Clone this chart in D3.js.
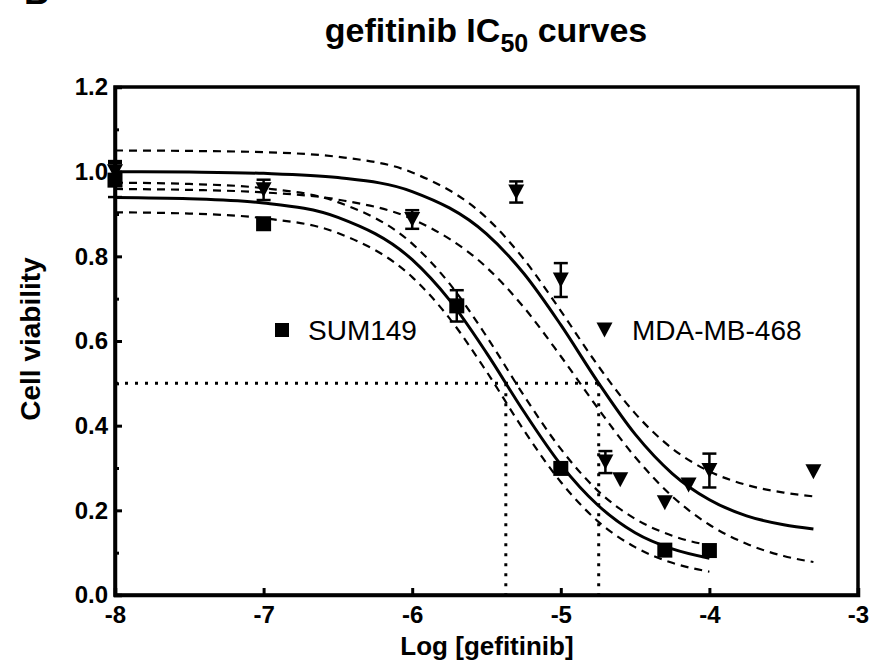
<!DOCTYPE html>
<html>
<head>
<meta charset="utf-8">
<script src="https://cdn.jsdelivr.net/npm/d3@7/dist/d3.min.js"></script>
<style>
  html, body { margin: 0; padding: 0; background: #fff; }
  svg { display: block; font-family: Arial, "Liberation Sans", sans-serif; }
</style>
</head>
<body>
<svg id="chart" width="870" height="669"></svg>
<script>
// ---- measured responses (log molar concentration vs. fraction viable) ----
const sumLogConc  = [-8, -7, -5.7, -5, -4.3, -4];
const sumViab     = [0.98, 0.877, 0.683, 0.299, 0.106, 0.105];
const sumSem      = [0.04, 0, 0.037, 0, 0, 0];

const mdaLogConc  = [-8, -7, -6, -5.3, -5, -4.7, -4.6, -4.3, -4.14, -4, -3.3];
const mdaViab     = [1.0, 0.957, 0.887, 0.952, 0.744, 0.314, 0.272, 0.218, 0.26, 0.294, 0.291];
const mdaSem      = [0.025, 0.024, 0.022, 0.025, 0.04, 0.026, 0, 0, 0, 0.04, 0];

// ---- fitted dose-response curves with 95% confidence bands ----
const sumCurveX   = [-8, -7.5, -7, -6.5, -6, -5.75, -5.5, -5.25, -5, -4.75, -4.5, -4.25, -4];
const sumFit      = [0.939, 0.936, 0.926, 0.892, 0.792, 0.697, 0.572, 0.434, 0.308, 0.212, 0.147, 0.109, 0.087];
const sumUpper    = [0.974, 0.971, 0.961, 0.928, 0.830, 0.736, 0.611, 0.472, 0.345, 0.246, 0.180, 0.140, 0.117];
const sumLower    = [0.904, 0.901, 0.890, 0.855, 0.751, 0.654, 0.528, 0.390, 0.267, 0.174, 0.113, 0.076, 0.055];

const mdaCurveX   = [-8, -7.5, -7, -6.5, -6, -5.5, -5.25, -5, -4.75, -4.5, -4.25, -4, -3.75, -3.5, -3.3];
const mdaFit      = [1.000, 0.999, 0.996, 0.986, 0.953, 0.853, 0.760, 0.638, 0.503, 0.380, 0.287, 0.225, 0.187, 0.166, 0.156];
const mdaUpper    = [1.050, 1.049, 1.046, 1.035, 0.998, 0.891, 0.794, 0.671, 0.542, 0.429, 0.346, 0.292, 0.260, 0.242, 0.233];
const mdaLower    = [0.959, 0.957, 0.951, 0.934, 0.888, 0.774, 0.680, 0.564, 0.441, 0.326, 0.233, 0.166, 0.121, 0.092, 0.078];

// ---- IC50 (log M) at 50% viability ----
const ic50Names   = ["SUM149", "MDA-MB-468"];
const ic50Log     = [-5.37, -4.745];
const halfViab    = 0.5;

// ---- axis ticks ----
const xTicks      = [-8, -7, -6, -5, -4, -3];
const yTicks      = [0.0, 0.2, 0.4, 0.6, 0.8, 1.0, 1.2];
const yMinorTicks = [0.1, 0.3, 0.5, 0.7, 0.9, 1.1];

const svg = d3.select("#chart");

const plot = { left: 115, right: 858, top: 87, bottom: 595 };
const x = d3.scaleLinear().domain([-8, -3]).range([plot.left, plot.right]);
const y = d3.scaleLinear().domain([0, 1.2]).range([plot.bottom, plot.top]);

// panel letter
svg.append("text")
  .attr("x", 24).attr("y", 4)
  .attr("font-size", 35).attr("font-weight", "bold")
  .text("B");

// title with subscript
const title = svg.append("text")
  .attr("x", 486).attr("y", 42)
  .attr("text-anchor", "middle")
  .attr("font-size", 34).attr("font-weight", "bold");
title.append("tspan").text("gefitinib IC");
title.append("tspan").attr("font-size", 25).attr("dy", 10).text("50");
title.append("tspan").attr("dy", -10).text(" curves");

// frame
svg.append("rect")
  .attr("x", plot.left).attr("y", plot.top)
  .attr("width", plot.right - plot.left).attr("height", plot.bottom - plot.top)
  .attr("fill", "none").attr("stroke", "#000").attr("stroke-width", 3.5);

// axes (ticks point into the plot); labels use a plain hyphen for negatives
const xAxis = svg.append("g")
  .attr("transform", `translate(0,${plot.bottom})`)
  .call(d3.axisBottom(x).tickValues(xTicks).tickSize(-7).tickPadding(11)
        .tickFormat(d => String(d)));
const yAxis = svg.append("g")
  .attr("transform", `translate(${plot.left},0)`)
  .call(d3.axisLeft(y).tickValues(yTicks).tickSize(-7).tickPadding(7)
        .tickFormat(d => d.toFixed(1)));
svg.append("g")
  .attr("transform", `translate(${plot.left},0)`)
  .call(d3.axisLeft(y).tickValues(yMinorTicks).tickSize(-4).tickFormat(""))
  .call(g => g.select(".domain").remove());

[xAxis, yAxis].forEach(g => {
  g.select(".domain").attr("stroke-width", 3.5);
  g.selectAll(".tick text")
    .attr("font-size", 24).attr("font-weight", "bold")
    .attr("font-family", "Arial, 'Liberation Sans', sans-serif")
    .attr("fill", "#000");
});
svg.selectAll(".tick line").attr("stroke", "#000").attr("stroke-width", 3);
xAxis.selectAll(".tick text").attr("dy", "0.71em");

// axis titles
svg.append("text")
  .attr("x", 487).attr("y", 655)
  .attr("text-anchor", "middle")
  .attr("font-size", 26).attr("font-weight", "bold")
  .text("Log [gefitinib]");
svg.append("text")
  .attr("transform", "translate(40,339) rotate(-90)")
  .attr("text-anchor", "middle")
  .attr("font-size", 28).attr("font-weight", "bold")
  .text("Cell viability");

// IC50 guide lines
const dotted = { stroke: "#000", "stroke-width": 3, "stroke-dasharray": "3,7", fill: "none" };
const guides = svg.append("g");
const hLine = guides.append("line")
  .attr("x1", x(-8)).attr("x2", x(d3.max(ic50Log)))
  .attr("y1", y(halfViab)).attr("y2", y(halfViab));
Object.entries(dotted).forEach(([k, v]) => hLine.attr(k, v));
ic50Log.forEach(v => {
  const l = guides.append("line")
    .attr("x1", x(v)).attr("x2", x(v))
    .attr("y1", y(halfViab)).attr("y2", y(0));
  Object.entries(dotted).forEach(([k, val]) => l.attr(k, val));
});

// curves
const line = d3.line()
  .x(d => x(d[0])).y(d => y(d[1]))
  .curve(d3.curveMonotoneX);
function drawCurve(xs, ys, dashed) {
  svg.append("path")
    .datum(xs.map((v, i) => [v, ys[i]]))
    .attr("d", line)
    .attr("fill", "none")
    .attr("stroke", "#000")
    .attr("stroke-width", dashed ? 2.2 : 3)
    .attr("stroke-dasharray", dashed ? "8,6" : null);
}
drawCurve(sumCurveX, sumUpper, true);
drawCurve(sumCurveX, sumLower, true);
drawCurve(sumCurveX, sumFit, false);
drawCurve(mdaCurveX, mdaUpper, true);
drawCurve(mdaCurveX, mdaLower, true);
drawCurve(mdaCurveX, mdaFit, false);

// error bars
function drawErrors(xs, ys, es) {
  const g = svg.append("g").attr("stroke", "#000").attr("stroke-width", 2.5);
  xs.forEach((v, i) => {
    if (!es[i]) return;
    const cx = x(v), y1 = y(ys[i] + es[i]), y2 = y(ys[i] - es[i]);
    g.append("line").attr("x1", cx).attr("x2", cx).attr("y1", y1).attr("y2", y2);
    g.append("line").attr("x1", cx - 7).attr("x2", cx + 7).attr("y1", y1).attr("y2", y1);
    g.append("line").attr("x1", cx - 7).attr("x2", cx + 7).attr("y1", y2).attr("y2", y2);
  });
}
drawErrors(sumLogConc, sumViab, sumSem);
drawErrors(mdaLogConc, mdaViab, mdaSem);

// markers
const sq = 15;
svg.append("g").selectAll("rect")
  .data(sumLogConc.map((v, i) => [v, sumViab[i]]))
  .join("rect")
  .attr("x", d => x(d[0]) - sq / 2).attr("y", d => y(d[1]) - sq / 2)
  .attr("width", sq).attr("height", sq).attr("fill", "#000");

const triW = 16, triH = 15;
const tri = (cx, cy) => `M${cx - triW / 2},${cy - triH / 2}L${cx + triW / 2},${cy - triH / 2}L${cx},${cy + triH / 2}Z`;
svg.append("g").selectAll("path")
  .data(mdaLogConc.map((v, i) => [v, mdaViab[i]]))
  .join("path")
  .attr("d", d => tri(x(d[0]), y(d[1])))
  .attr("fill", "#000");

// legend
svg.append("rect").attr("x", 275).attr("y", 323).attr("width", 14).attr("height", 14).attr("fill", "#000");
svg.append("text").attr("x", 308).attr("y", 340).attr("font-size", 28).text(ic50Names[0]);
svg.append("path").attr("d", tri(604.5, 330)).attr("fill", "#000");
svg.append("text").attr("x", 632).attr("y", 340).attr("font-size", 28).text(ic50Names[1]);
</script>
</body>
</html>
